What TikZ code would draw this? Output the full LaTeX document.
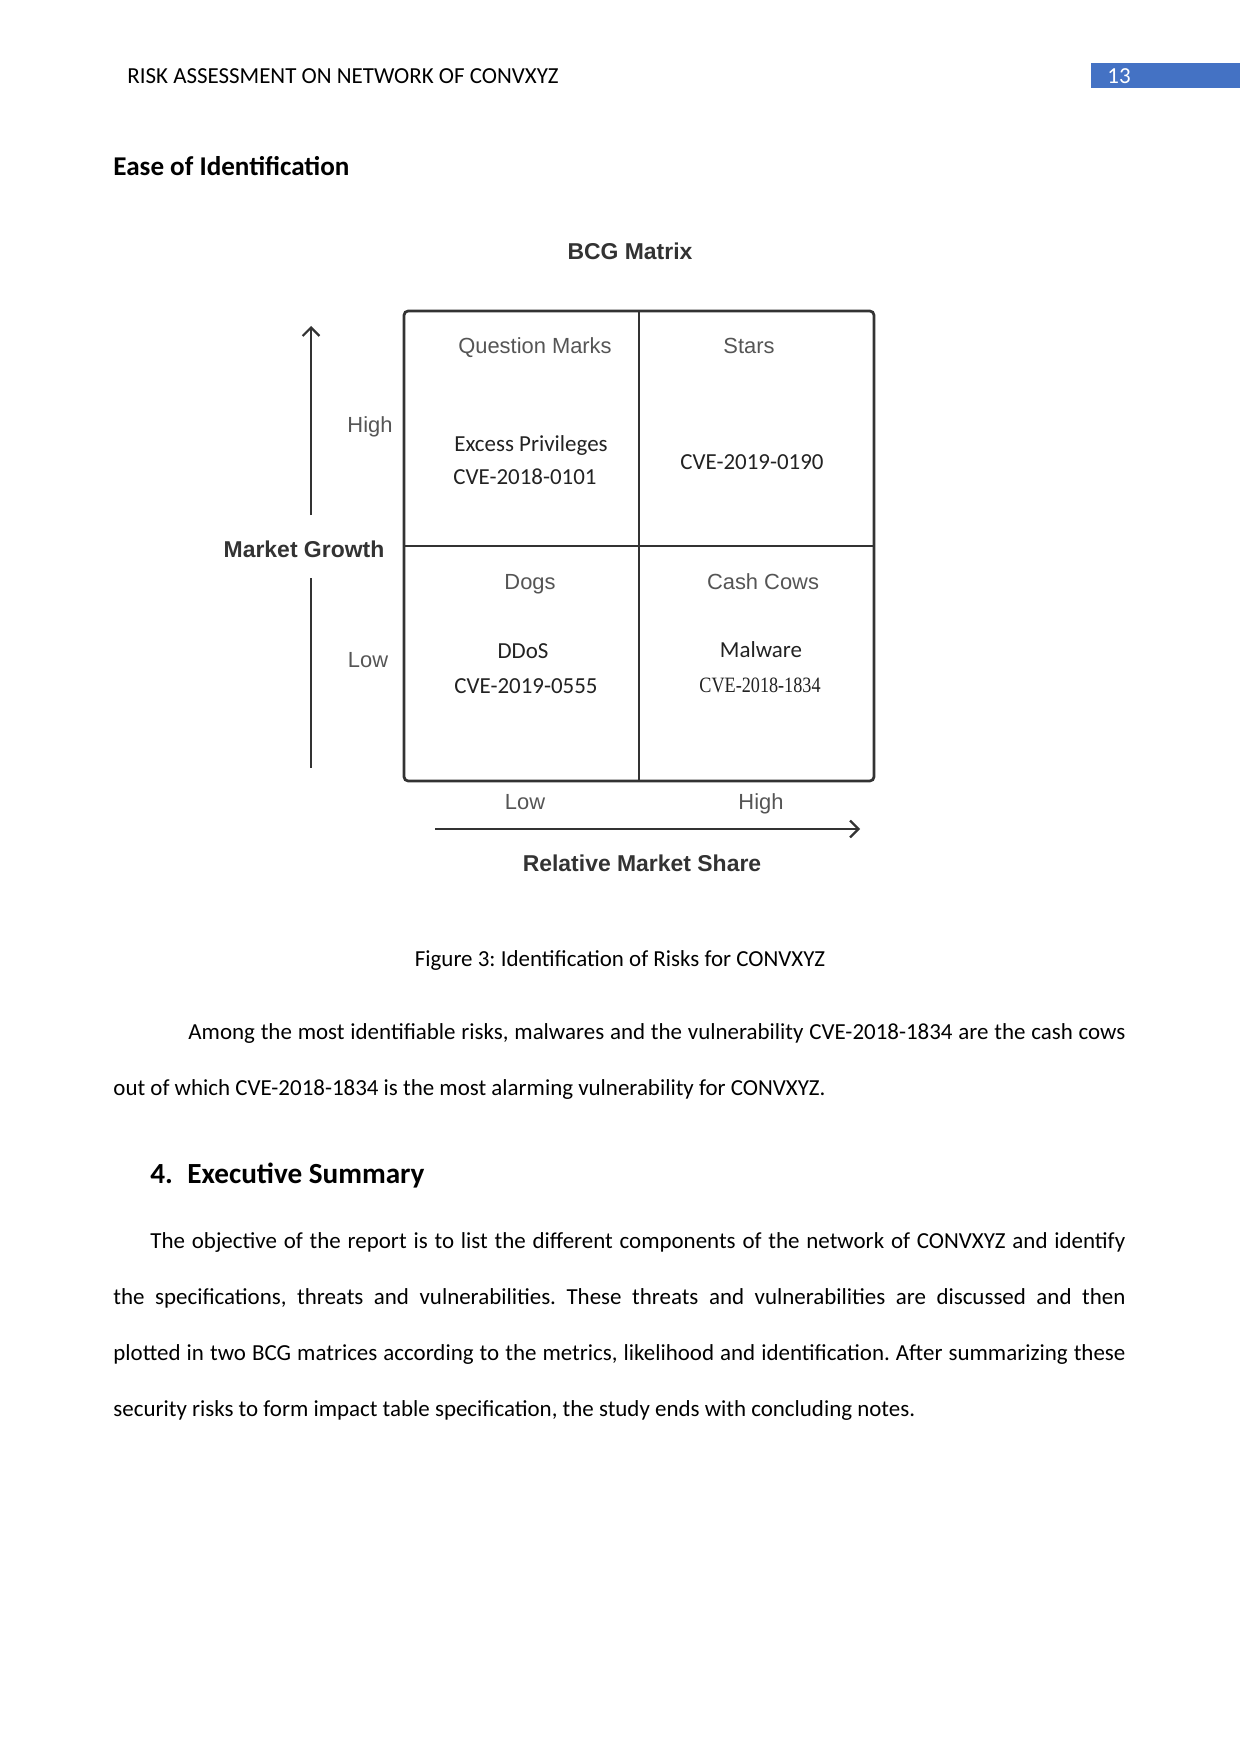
\documentclass[tikz,border=0pt]{standalone}
\usepackage{fontspec}
\setmainfont{Carlito}
\newfontfamily\arialf{Liberation Sans}
\newfontfamily\timesf{Liberation Serif}
\usetikzlibrary{arrows.meta}
\frenchspacing
\definecolor{hdrblue}{HTML}{4472C4}
\definecolor{lblgray}{HTML}{555555}
\definecolor{boldgray}{HTML}{333333}
\definecolor{cellink}{HTML}{222222}
\definecolor{linegray}{HTML}{333333}
\tikzset{
  bodytext/.style={anchor=base west, inner sep=0pt, font=\fontsize{11}{13}\selectfont},
  lbl/.style={anchor=base, inner sep=0pt, text=lblgray, font=\arialf\fontsize{10.5}{12}\selectfont},
  blbl/.style={anchor=base, inner sep=0pt, text=boldgray, font=\arialf\bfseries\fontsize{11}{13}\selectfont},
  cell/.style={anchor=base, inner sep=0pt, text=cellink, font=\fontsize{11}{13}\selectfont},
  cellserif/.style={anchor=base, inner sep=0pt, text=cellink, font=\timesf\fontsize{10.5}{12}\selectfont},
  gridline/.style={draw=linegray, line width=1.3pt},
  axisline/.style={draw=linegray, line width=1.1pt},
}
\begin{document}
\begin{tikzpicture}[x=0.4795pt,y=-0.4795pt]
\useasboundingbox (0,0) rectangle (1241,1754);
\fill[white] (0,0) rectangle (1241,1754);

% header
\node[bodytext] (hdr) at (127,84) {RISK ASSESSMENT ON NETWORK OF CONVXYZ};
\fill[hdrblue] (1091,63) rectangle (1240,88);
\node[bodytext, text=white] (pgnum) at (1107,84) {13};

% heading
\node[bodytext, font=\bfseries\fontsize{13}{15}\selectfont] (h1) at (113,176) {Ease of Identification};

% BCG matrix
\node[blbl] (title) at (630,260) {BCG Matrix};
\draw[gridline, rounded corners=2pt] (404,311) rectangle (874,781);
\coordinate (vt) at (639,311); \coordinate (vb) at (639,781);
\coordinate (hl) at (404,546); \coordinate (hr) at (874,546);
\draw[gridline] (vt) -- (vb);
\draw[gridline] (hl) -- (hr);

\node[lbl] (qm) at (535,354) {Question Marks};
\node[lbl] (st) at (749,354) {Stars};
\node[cell] (ep) at (531,452) {Excess Privileges};
\node[cell] (c1) at (525,485) {CVE-2018-0101};
\node[cell] (c2) at (752,469) {CVE-2019-0190};
\node[lbl] (dg) at (530,589) {Dogs};
\node[lbl] (cc) at (763,589) {Cash Cows};
\node[cell] (dd) at (523,658) {DDoS};
\node[cell] (c3) at (526,693) {CVE-2019-0555};
\node[cell] (mw) at (761,657) {Malware};
\node[cellserif] (c4) at (760,692) {\scalebox{0.83}[1]{CVE-2018-1834}};

\node[lbl] (hi1) at (370,433) {High};
\node[lbl] (lo1) at (368,667) {Low};
\node[blbl] (mg) at (304,557) {Market Growth};
\coordinate (vtop) at (311,326);
\coordinate (vbot) at (311,515);
\draw[axisline, -{Straight Barb[length=4pt,width=8pt]}] (vbot) -- (vtop);
\coordinate (v2t) at (311,578);
\coordinate (v2b) at (311,768);
\draw[axisline] (v2t) -- (v2b);

\node[lbl] (lo2) at (525,809) {Low};
\node[lbl] (hi2) at (761,809) {High};
\coordinate (hleft) at (435,829);
\coordinate (hright) at (860,829);
\draw[axisline, -{Straight Barb[length=4pt,width=8pt]}] (hleft) -- (hright);
\node[blbl] (rms) at (642,871) {Relative Market Share};

% caption
\node[bodytext, anchor=base] (cap) at (620,966) {Figure 3: Identification of Risks for CONVXYZ};

% paragraph 1
\node[bodytext] (p1a) at (188,1039) {\makebox[449.3pt][s]{Among the most identifiable risks, malwares and the vulnerability CVE-2018-1834 are the cash cows}};
\node[bodytext] (p1b) at (113,1095) {out of which CVE-2018-1834 is the most alarming vulnerability for CONVXYZ.};

% section heading
\node[bodytext, font=\bfseries\fontsize{14}{16}\selectfont] (s4n) at (150,1183) {4.};
\node[bodytext, font=\bfseries\fontsize{14}{16}\selectfont] (s4t) at (187,1183) {Executive Summary};

% paragraph 2
\node[bodytext] (p2a) at (150,1248) {\makebox[467.5pt][s]{The objective of the report is to list the different components of the network of CONVXYZ and identify}};
\node[bodytext] (p2b) at (113,1304) {\makebox[485.3pt][s]{the specifications, threats and vulnerabilities. These threats and vulnerabilities are discussed and then}};
\node[bodytext] (p2c) at (113,1360) {\makebox[485.3pt][s]{plotted in two BCG matrices according to the metrics, likelihood and identification. After summarizing these}};
\node[bodytext] (p2d) at (113,1416) {security risks to form impact table specification, the study ends with concluding notes.};
\end{tikzpicture}
\end{document}
